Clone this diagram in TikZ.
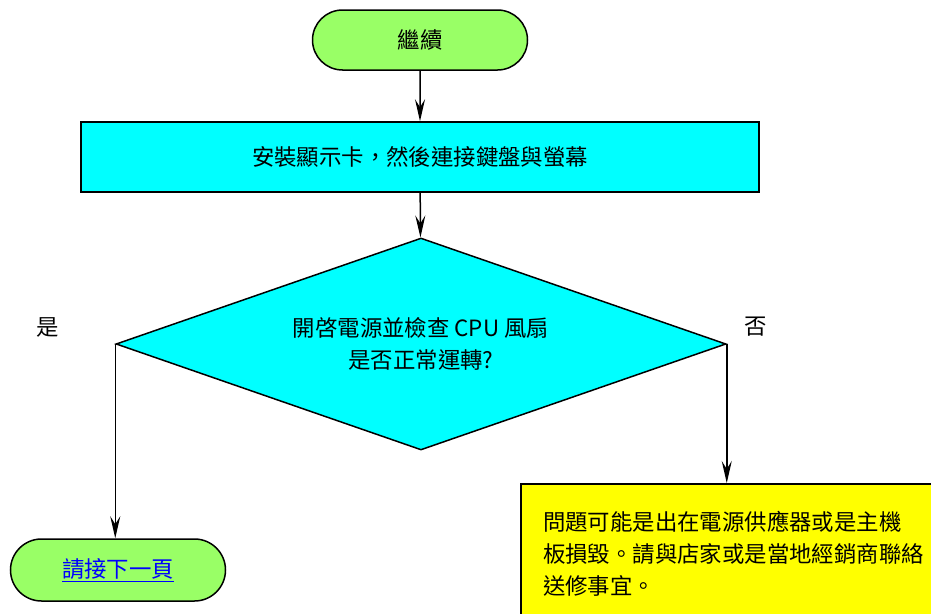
\documentclass[tikz,border=0pt]{standalone}
\usepackage{fontspec}
\setmainfont{Noto Sans CJK TC}
\usetikzlibrary{shapes.geometric,shapes.misc,arrows.meta}
\definecolor{termgreen}{HTML}{99FF66}
\definecolor{boxcyan}{HTML}{00FFFF}
\definecolor{boxyellow}{HTML}{FFFF00}
\definecolor{linkblue}{HTML}{0000FF}

\begin{document}
\begin{tikzpicture}[x=1pt, y=-1pt, font=\fontsize{22.4}{32}\selectfont,
    term/.style = {draw, rounded rectangle, fill=termgreen, line width=1.5pt, minimum width=215pt, minimum height=60pt, inner sep=0pt},
    box/.style = {draw, rectangle, line width=1.5pt, inner sep=0pt},
    arr/.style = {-{Stealth[length=22pt, width=10pt, inset=8pt]}, line width=1.5pt}]
        \useasboundingbox (0,0) rectangle (931,613);
        \clip (0,0) rectangle (931,613);
        \node[term] (cont) at (420,40) {繼續};
        \node[box, fill=boxcyan, minimum width=678pt, minimum height=70pt] (card) at (420,157) {安裝顯示卡，然後連接鍵盤與螢幕};
        \node[draw, diamond, fill=boxcyan, line width=1.5pt, shape aspect=2.88, minimum width=610pt, minimum height=212pt, inner sep=0pt, align=center] (chk) at (421,344) {開啓電源並檢查 CPU 風扇\\是否正常運轉?};
        \node (yes) at (48,327) {是};
        \node (no) at (756,327) {否};
        \node[term, minimum height=62pt] (next) at (118,570) {\color{linkblue}\underline{請接下一頁}};
        \node[box, fill=boxyellow, anchor=north, minimum width=414pt, minimum height=140pt, text width=370pt, align=left] (fail) at (728,483) {問題可能是出在電源供應器或是主機\\板損毀。請與店家或是當地經銷商聯絡\\送修事宜。};
        \draw[arr] (cont) -- (card);
        \draw[arr] (card) -- (chk);
        \draw[arr] (chk.west) -- (chk.west |- next.north);
        \draw[arr] (chk.east) -- (chk.east |- fail.north);
      \end{tikzpicture}
\end{document}
